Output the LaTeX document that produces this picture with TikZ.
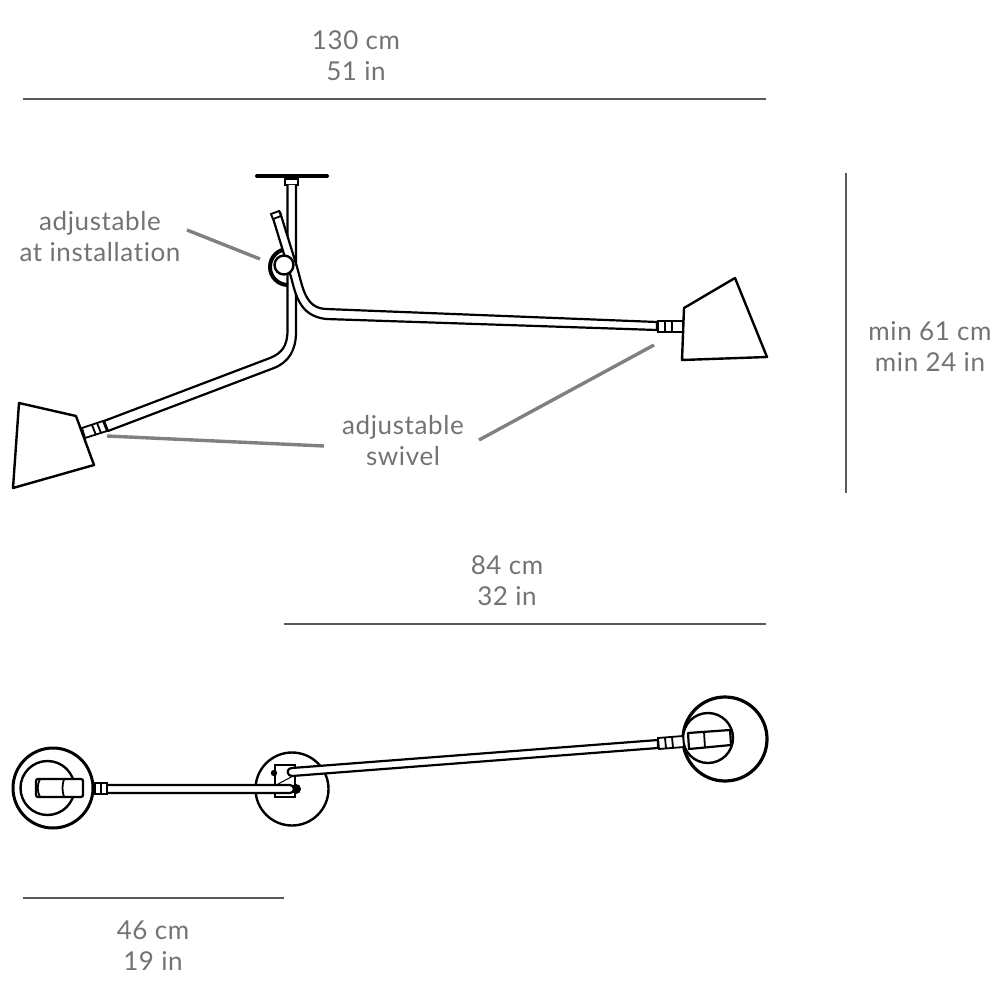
\documentclass[tikz,border=0pt]{standalone}
\usepackage{fontspec}
\setmainfont[LetterSpace=2.4,Ligatures=NoCommon]{Lato}
\tikzset{
  lbl/.style={text=black!55, font=\fontsize{26}{31}\selectfont, align=center, inner sep=0},
  dimline/.style={draw=black!65, line width=1.2pt},
  leader/.style={draw=black!50, line width=3.4pt},
  lamp/.style={draw=black, line width=2.4pt, line join=round, fill=white},
  tube/.style={draw=black, line width=2.2pt, line join=round, fill=white},
  thin part/.style={draw=black, line width=1.8pt, fill=white},
}
\begin{document}
\begin{tikzpicture}[x=1pt, y=-1pt]
  \useasboundingbox (0,0) rectangle (1000,1000);

  % labels
  \node [lbl](lbl130) at (356,55.5) {130 cm\\51 in};
  \node [lbl](lbl84) at (507,581) {84 cm\\32 in};
  \node [lbl](lbl46) at (153,945.5) {46 cm\\19 in};
  \node [lbl](lblmin) at (930,346.5) {min 61 cm\\min 24 in};
  \node [lbl](lblinst) at (100,236.5) {adjustable\\at installation};
  \node [lbl](lblswivel) at (403,440.5) {adjustable\\swivel};

  % dimension lines
  \coordinate (a1) at (23,99);
  \coordinate (a2) at (766,99);
  \coordinate (b1) at (284,624);
  \coordinate (b2) at (766,624);
  \coordinate (c1) at (23,898);
  \coordinate (c2) at (284,898);
  \coordinate (d1) at (846,173);
  \coordinate (d2) at (846,493);
  \draw [dimline] (a1) -- (a2);
  \draw [dimline] (b1) -- (b2);
  \draw [dimline] (c1) -- (c2);
  \draw [dimline] (d1) -- (d2);

  % leaders
  \coordinate (instend) at (260,259);
  \coordinate (instbeg) at (187,230);
  \coordinate (swa) at (324,446);
  \coordinate (swb) at (107,436);
  \coordinate (swc) at (479,440);
  \coordinate (swd) at (654,345);
  \draw [leader] (instbeg) -- (instend);
  \draw [leader] (swa) -- (swb);
  \draw [leader] (swc) -- (swd);

  % side view: plate and stem
  \draw [line width=4pt, line cap=round] (257,176) -- (327,176);
  \draw [thin part] (285,179) rectangle (298,185);
  \draw [tube] (287.5,185) -- (287.5,330)
    .. controls (287.5,346) and (282,353) .. (270,358) -- (104,421)
    -- (108,431) -- (274,368)
    .. controls (289,362) and (296,350) .. (296,332) -- (296,185);

  % side view: joint
  \fill (288,247) arc (270:90:20) -- (288,283) arc (90:270:16) -- cycle;
  \draw [tube] (280,212) -- (297,267)
    .. controls (303,288) and (305,308) .. (326,309) -- (657,322)
    -- (657,330) -- (326,319)
    .. controls (300,316) and (296,296) .. (291,277) -- (272,215) -- cycle;
  \draw [thin part] (271,214) -- (279,211) -- (281,216) -- (273,219) -- cycle;
  \draw [lamp] (284,265) circle (9.5);

  % side view: left lamp
  \draw [lamp] (19,403) -- (76,416) -- (94,465) -- (13,488) -- cycle;
  \draw [thin part] (82,428) -- (103,421) -- (107,431) -- (85,438) -- cycle;
  \draw [thin part] (92,425) -- (96,435);
  \draw [thin part] (97,423) -- (101,433);

  % side view: right lamp
  \draw [lamp] (684,308) -- (735,278) -- (767,357) -- (682,360) -- cycle;
  \draw [thin part] (658,321) rectangle (683,332);
  \draw [thin part] (665,321) -- (665,332);
  \draw [thin part] (672,321) -- (672,332);

  % top view: middle
  \draw [lamp] (292,789) circle (36.5);
  \draw [thin part] (275,765) rectangle (295,797);
  \fill (274,773) circle (3.2);
  \fill (296,789) circle (5);
  \draw [line width=1pt] (278,784) -- (295,775);
  \draw [tube] (107,785) -- (290,785) arc (-90:90:4) -- (107,793);

  % top view: long arm
  \draw [lamp, line width=3.2pt] (725,739) circle (42);
  \draw [lamp] (708,738) circle (25);
  \draw [tube] (292,768) -- (658,740) -- (658,748) -- (292,776)
    arc (85:275:4) -- cycle;
  \draw [thin part] (658,738) -- (683,736) -- (684,747) -- (659,749) -- cycle;
  \draw [thin part] (665,738) -- (666,748);
  \draw [thin part] (672,737) -- (673,748);
  \draw [tube] (688,733) -- (730,730) -- (731,745) -- (689,749) -- cycle;
  \draw [thin part] (704,732) -- (705,748);

  % top view: left lamp
  \draw [lamp, line width=3pt] (53,788) circle (40);
  \draw [lamp] (47.5,788) circle (27);
  \draw [tube, rounded corners=2pt] (36,779) rectangle (83,797);
  \draw [thin part, fill=none] (64,797) .. controls (62,790) and (62,786) .. (64,779);
  \draw [thin part, fill=none] (40,779) .. controls (37,785) and (37,791) .. (40,797);
  \draw [thin part] (95,783) rectangle (107,794);
  \draw [thin part] (101,783) -- (101,794);
\end{tikzpicture}
\end{document}
